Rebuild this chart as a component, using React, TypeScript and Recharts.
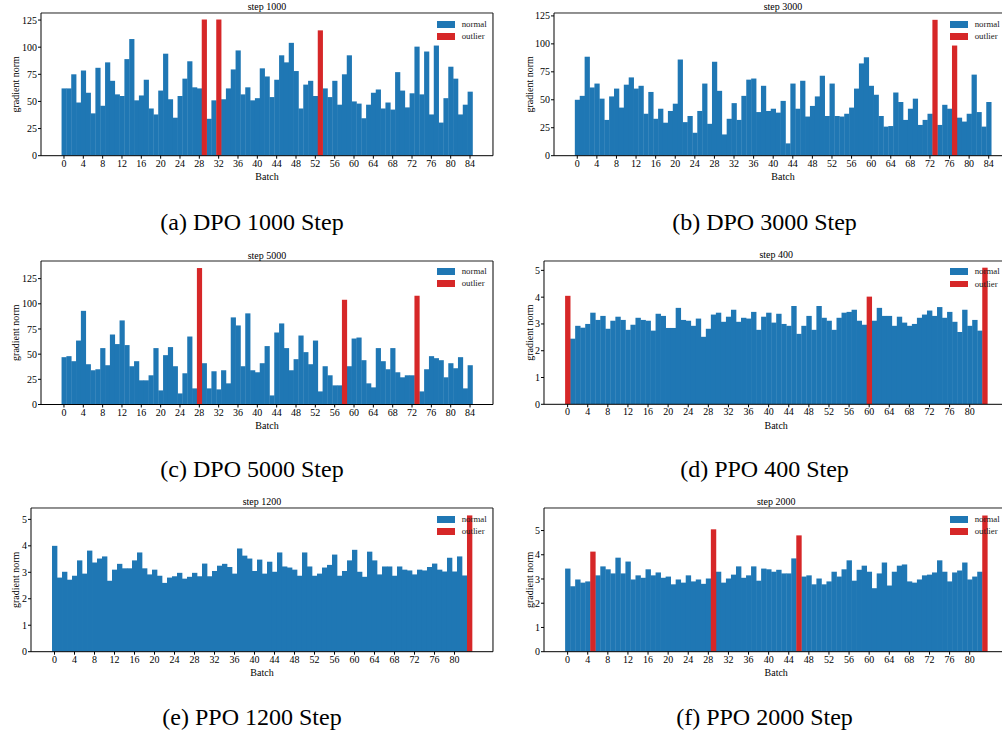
import { Bar, BarChart, CartesianGrid, Legend, ReferenceLine, XAxis, YAxis } from "recharts";

const FONT = "Liberation Serif, Times New Roman, serif";
const BLUE = "#1f77b4";
const RED = "#d62728";

// gradient norm per batch, outlier batches listed separately
const dpo1000 = [
  62, 62, 75, 49, 78.5, 58, 39, 81, 46, 86,
  69, 56.5, 55, 89, 107.5, 51, 55.5, 70, 43.5, 38,
  60, 94, 52, 35, 55, 71, 87, 63, 62, 125.5,
  34, 51, 125.5, 52, 62, 79.5, 97, 56.5, 63, 51,
  53, 80.5, 73, 54, 70, 92.5, 86, 104, 78, 43.5,
  65.5, 69, 55, 115.5, 62, 54, 69, 47, 75, 92.5,
  50, 48, 34.5, 47, 58, 61, 43.5, 49, 42.5, 77,
  60, 44.5, 57.5, 100.5, 56.5, 96, 38, 101.5, 30.5, 53,
  82, 71, 38, 47, 59,
];
const dpo1000Outliers = [29, 32, 53];

const dpo3000 = [
  50, 53.5, 88.5, 61, 64.5, 51, 32, 53, 60, 43,
  63.5, 70, 60, 62.5, 37.5, 57, 33, 42, 29.5, 40,
  46.5, 86, 30, 35.5, 20.5, 40, 64.5, 28.5, 84, 58,
  19, 33, 47, 32, 53.5, 68, 69, 39, 62.5, 40,
  42, 38.5, 49, 11, 64.5, 42, 67, 35, 44.5, 53,
  71.5, 35.5, 64.5, 35.5, 35, 37.5, 43, 60, 82.5, 88,
  62.5, 54.5, 35.5, 26, 26.5, 56.5, 48, 32, 42, 51,
  27.5, 32, 37.5, 121.5, 27.5, 45.5, 42, 98.5, 34, 30.5,
  37.5, 72.5, 39, 26, 48,
];
const dpo3000Outliers = [73, 77];

const dpo5000 = [
  47, 48, 43, 63.5, 93, 40, 34, 35, 56, 39,
  69.5, 60, 83.5, 59, 38, 43, 24, 24, 29, 56,
  14, 49, 57, 38, 11, 31, 67.5, 16, 135.5, 41,
  16, 33, 15, 34, 21, 86.5, 78.5, 38, 90.5, 34,
  32, 41, 58, 9, 71.5, 80.5, 56, 34, 45, 68.5,
  52, 40, 63.5, 13, 38, 29, 19, 19, 104, 38,
  65.5, 66.5, 44, 21, 17, 56, 43, 35, 56, 32,
  27, 29, 29, 108, 13, 35, 48, 46, 44, 27,
  41, 36, 47, 16, 39,
];
const dpo5000Outliers = [28, 58, 73];

const ppo400 = [
  4.05, 2.45, 2.93, 2.86, 3.0, 3.42, 3.15, 3.3, 2.82, 3.12,
  3.27, 3.15, 2.78, 2.97, 3.23, 3.15, 3.12, 2.75, 3.38, 3.3,
  2.85, 2.85, 3.6, 3.15, 3.12, 2.93, 3.2, 2.52, 2.82, 3.35,
  3.42, 3.08, 3.27, 3.53, 3.08, 3.23, 3.2, 3.45, 2.78, 3.27,
  3.42, 3.05, 3.38, 3.0, 2.93, 3.67, 2.63, 2.93, 3.3, 2.78,
  3.67, 3.23, 3.12, 2.78, 3.23, 3.42, 3.45, 3.53, 3.12, 2.97,
  4.02, 3.12, 3.6, 3.3, 3.3, 2.93, 3.27, 3.05, 2.93, 3.0,
  3.23, 3.35, 3.5, 3.3, 3.63, 3.23, 3.45, 3.08, 2.7, 3.53,
  2.93, 3.15, 2.75, 5.1,
];
const ppo400Outliers = [0, 60, 83];

const ppo1200 = [
  4.0, 2.8, 3.02, 2.72, 2.87, 3.45, 2.95, 3.82, 3.37, 3.52,
  3.6, 2.68, 3.1, 3.32, 3.15, 3.15, 3.45, 3.75, 3.15, 2.92,
  3.1, 2.87, 2.6, 2.8, 2.85, 2.98, 2.76, 2.83, 2.98, 2.85,
  3.33, 2.85, 3.05, 3.25, 3.32, 3.2, 2.95, 3.9, 3.63, 3.52,
  3.05, 3.48, 2.95, 3.4, 3.02, 3.75, 3.22, 3.18, 3.1, 2.87,
  3.75, 3.22, 2.87, 2.95, 3.18, 3.28, 3.67, 2.87, 3.05, 3.45,
  3.85, 3.02, 2.83, 3.78, 3.45, 2.92, 3.22, 3.22, 2.87, 3.22,
  3.1, 3.07, 2.92, 3.1, 3.07, 3.2, 3.33, 3.1, 3.03, 3.55,
  3.03, 3.6, 2.88, 5.15,
];
const ppo1200Outliers = [83];

const ppo2000 = [
  3.43, 2.7, 2.98, 2.85, 2.9, 4.13, 3.15, 3.52, 3.4, 3.23,
  3.88, 3.23, 3.72, 2.98, 3.15, 3.05, 3.4, 3.15, 3.27, 3.05,
  3.1, 2.78, 2.98, 2.85, 3.15, 2.9, 2.98, 2.8, 3.02, 5.05,
  3.3, 2.85, 3.02, 3.18, 3.52, 3.05, 3.15, 3.52, 2.93, 3.43,
  3.4, 3.3, 3.38, 3.23, 3.23, 3.85, 4.8, 3.1, 3.15, 2.78,
  3.02, 2.78, 2.9, 3.3, 3.1, 3.4, 3.77, 2.93, 3.38, 3.55,
  3.3, 2.62, 3.23, 3.68, 2.73, 3.3, 3.55, 3.6, 2.9, 2.85,
  2.98, 3.15, 3.18, 3.27, 3.77, 3.3, 2.9, 3.27, 3.35, 3.68,
  2.98, 3.1, 3.3, 5.62,
];
const ppo2000Outliers = [5, 29, 46, 83];

const dpoTicks = [0, 25, 50, 75, 100, 125];
const ppoTicks = [0, 1, 2, 3, 4, 5];

function toRows(values: number[], outliers: number[]) {
  return values.map((v, i) => ({
    batch: i,
    normal: outliers.includes(i) ? null : v,
    outlier: outliers.includes(i) ? v : null,
  }));
}

const AXIS_W = 30;
const ML = 15;
const MT = 15;
const XH = 30;

type PanelProps = {
  title: string;
  values: number[];
  outliers: number[];
  yMax: number;
  yTicks: number[];
  left: number;
  top: number;
  right: number;
  bottom: number;
  yLabelGap: number;
  legendX: number;
};

function LegendBox({ payload }: any) {
  return (
    <div>
      {(payload || []).map((e: any) => (
        <div key={e.value} style={{ display: "flex", alignItems: "center", height: 12.3 }}>
          <span style={{ display: "inline-block", width: 18, height: 6.7, background: e.color, marginRight: 6.7 }} />
          <span style={{ fontSize: 8.8, fontFamily: FONT, color: "#222", lineHeight: 1 }}>{e.value}</span>
        </div>
      ))}
    </div>
  );
}

// bars filling the whole band, slightly overlapped so no seams show between neighbours
function bandShape(unit: number, color: string) {
  return (props: any) => {
    if (!props.height || props.height <= 0) return <g />;
    return <rect x={props.x} y={props.y} width={unit + 0.35} height={props.height} fill={color} />;
  };
}

function Panel(p: PanelProps) {
  const w = p.right - p.left;
  const h = p.bottom - p.top;
  const n = p.values.length;
  const unit = w / (n * 1.1);
  const pad = n * 0.05 * unit;
  const chartLeft = p.left - ML - AXIS_W;
  const chartTop = p.top - MT;
  const plotRight = ML + AXIS_W + w;
  const barW = unit - 0.01;
  const txt = { fill: "#000", fontSize: 10, fontFamily: FONT };

  return (
    <div style={{ position: "absolute", left: chartLeft, top: chartTop, fontFamily: FONT }}>
      <BarChart
        width={ML + AXIS_W + w + 4}
        height={MT + h + XH + 2}
        data={toRows(p.values, p.outliers)}
        margin={{ top: MT, right: 4, left: ML, bottom: 2 }}
        barCategoryGap={0}
        barGap={0}
        style={{ fontFamily: FONT }}
      >
        <CartesianGrid
          xAxisId="b"
          yAxisId="l"
          horizontal={false}
          verticalPoints={[plotRight]}
          stroke="#000"
          strokeWidth={1}
        />
        <XAxis
          xAxisId="b"
          dataKey="batch"
          type="category"
          interval={3}
          padding={{ left: pad, right: pad }}
          height={XH}
          tickSize={3}
          tickMargin={1}
          tick={txt}
          axisLine={{ stroke: "#000" }}
          tickLine={{ stroke: "#000" }}
          label={{ value: "Batch", position: "insideBottom", offset: 5.5, ...txt }}
        />
        <YAxis
          yAxisId="l"
          type="number"
          domain={[0, p.yMax]}
          ticks={p.yTicks}
          allowDataOverflow
          width={AXIS_W}
          tickSize={3}
          tickMargin={1}
          tick={txt}
          axisLine={{ stroke: "#000" }}
          tickLine={{ stroke: "#000" }}
          label={{
            value: "gradient norm",
            angle: -90,
            position: "insideLeft",
            offset: AXIS_W - p.yLabelGap,
            style: { textAnchor: "middle" },
            ...txt,
          }}
        />
        <Legend
          layout="vertical"
          align="center"
          verticalAlign="middle"
          wrapperStyle={{ left: p.legendX - chartLeft, top: MT + 4.9 }}
          content={LegendBox}
        />
        <Bar xAxisId="b" yAxisId="l" dataKey="normal" name="normal" stackId="s" barSize={barW}
          fill={BLUE} shape={bandShape(unit, BLUE)} isAnimationActive={false} />
        <Bar xAxisId="b" yAxisId="l" dataKey="outlier" name="outlier" stackId="s" barSize={barW}
          fill={RED} shape={bandShape(unit, RED)} isAnimationActive={false} />
        <ReferenceLine
          xAxisId="b"
          yAxisId="l"
          y={p.yMax}
          stroke="#222"
          strokeWidth={1}
          label={{ value: p.title, position: "top", offset: 2.5, ...txt }}
        />
      </BarChart>
    </div>
  );
}

function Caption({ text, x, y }: { text: string; x: number; y: number }) {
  return (
    <div
      style={{
        position: "absolute",
        left: x,
        top: y,
        transform: "translate(-50%, -50%)",
        whiteSpace: "nowrap",
        fontFamily: FONT,
        fontSize: 24,
        color: "#000",
      }}
    >
      {text}
    </div>
  );
}

export default function App() {
  return (
    <div
      style={{
        position: "absolute",
        left: 0,
        top: 0,
        width: 1002,
        height: 732,
        overflow: "hidden",
        background: "#fff",
        fontFamily: FONT,
      }}
    >
      <Panel title="step 1000" values={dpo1000} outliers={dpo1000Outliers} yMax={131.5} yTicks={dpoTicks}
        left={41} top={13.3} right={493} bottom={156} yLabelGap={26} legendX={437} />
      <Panel title="step 3000" values={dpo3000} outliers={dpo3000Outliers} yMax={127.6} yTicks={dpoTicks}
        left={554.3} top={13.3} right={1012.3} bottom={156} yLabelGap={25} legendX={950} />
      <Panel title="step 5000" values={dpo5000} outliers={dpo5000Outliers} yMax={142.5} yTicks={dpoTicks}
        left={41} top={260.5} right={493} bottom={404} yLabelGap={26} legendX={437} />
      <Panel title="step 400" values={ppo400} outliers={ppo400Outliers} yMax={5.35} yTicks={ppoTicks}
        left={544.3} top={260.7} right={1008.7} bottom={404} yLabelGap={15} legendX={950} />
      <Panel title="step 1200" values={ppo1200} outliers={ppo1200Outliers} yMax={5.43} yTicks={ppoTicks}
        left={31} top={508.3} right={493} bottom={652} yLabelGap={16} legendX={437} />
      <Panel title="step 2000" values={ppo2000} outliers={ppo2000Outliers} yMax={5.93} yTicks={ppoTicks}
        left={544.3} top={508.3} right={1008.7} bottom={652} yLabelGap={15} legendX={950} />

      <Caption text="(a) DPO 1000 Step" x={252} y={222} />
      <Caption text="(b) DPO 3000 Step" x={764.5} y={222} />
      <Caption text="(c) DPO 5000 Step" x={252} y={469} />
      <Caption text="(d) PPO 400 Step" x={764.5} y={469} />
      <Caption text="(e) PPO 1200 Step" x={252} y={717} />
      <Caption text="(f) PPO 2000 Step" x={764.5} y={717} />
    </div>
  );
}
